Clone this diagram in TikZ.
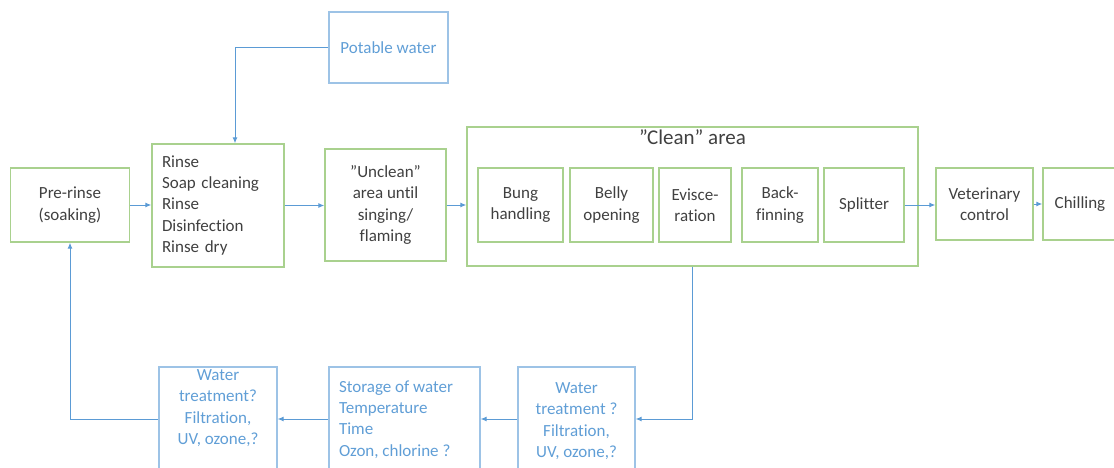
\documentclass[tikz,border=0pt]{standalone}
\usepackage{fontspec}
\setmainfont{Carlito}[Ligatures=NoCommon]
\usepackage{tikz}
\usetikzlibrary{arrows.meta}
\definecolor{boxgreen}{RGB}{169,209,142}
\definecolor{lineblue}{RGB}{91,155,213}
\definecolor{boxblue}{RGB}{157,195,230}
\definecolor{textblue}{RGB}{96,158,214}
\definecolor{textgray}{RGB}{64,64,64}

\begin{document}
\begin{tikzpicture}[x=1pt,y=-1pt,font=\fontsize{17}{21.3}\selectfont,
    flow/.style={draw=lineblue,line width=1pt,-{Latex[length=6pt,width=5pt]}}]
  \path[use as bounding box,clip] (0,0) rectangle (1114,468);
  % process chain (green)
  \begin{scope}[every node/.style={draw=boxgreen,line width=1.4pt,text=textgray,align=center,inner sep=2pt,minimum height=74},
                every label/.style={draw=none,minimum height=0pt,font=\fontsize{21}{25}\selectfont}]
  \node[minimum width=119] (pre) at (70,205) {Pre-rinse\\(soaking)};
  \node[minimum width=132,minimum height=123,align=left,text width=112] (rinse) at (218,205.5)
       {Rinse\\Soap cleaning\\Rinse\\Disinfection\\Rinse dry};
  \node[minimum width=121,minimum height=112] (unclean) at (385.5,205)
       {”Unclean”\\area until\\singing/\\flaming};
  \node[minimum width=451,minimum height=139,label={[below=1pt]north:”Clean” area}] (clean) at (692.5,196.5) {};
  \node[minimum width=85] (bung) at (520.5,205) {Bung\\handling};
  \node[minimum width=83] (belly) at (611.5,205) {Belly\\opening};
  \node[minimum width=72] (evisc) at (695,205) {Evisce-\\ration};
  \node[minimum width=76] (back) at (780,205) {Back-\\finning};
  \node[minimum width=80] (split) at (864,205) {Splitter};
  \node[minimum width=97,minimum height=72] (vet) at (984.5,204) {Veterinary\\control};
  \node[minimum width=74,minimum height=72] (chill) at (1080,204) {Chilling};
  \end{scope}
  % water handling (blue)
  \begin{scope}[every node/.style={draw=boxblue,line width=1.2pt,text=textblue,align=center,inner sep=2pt},
                every label/.style={draw=none}]
  \node[minimum width=119,minimum height=71] (potable) at (388.5,47.5) {Potable water};
  \node[minimum width=117,minimum height=104,label={[below=13.5pt]north:Water\\treatment ?\\Filtration,\\UV, ozone,?}]
       (wt2) at (576.5,419) {};
  \node[minimum width=151,minimum height=104,label={[align=left,anchor=north west,xshift=8pt,yshift=-11.5pt]north west:Storage of water\\Temperature\\Time\\Ozon, chlorine ?}]
       (store) at (404.5,419) {};
  \node[minimum width=118,minimum height=104,label={[below=0.5pt]north:Water\\treatment?\\Filtration,\\UV, ozone,?}]
       (wt1) at (218,419) {};
  \end{scope}
  % connectors
  \draw[flow] (pre.east) -- (pre.east -| rinse.west);
  \draw[flow] (rinse.east) -- (rinse.east -| unclean.west);
  \draw[flow] (unclean.east) -- (unclean.east -| clean.west);
  \draw[flow] (split.east) -- (split.east -| vet.west);
  \draw[flow] (vet.east) -- (chill.west);
  \draw[flow] (potable.west) -| ([xshift=17pt]rinse.north);
  \draw[flow] (clean.south) |- (wt2.east);
  \draw[flow] (wt2.west) -- (store.east);
  \draw[flow] (store.west) -- (wt1.east);
  \draw[flow] (wt1.west) -| (pre.south);
\end{tikzpicture}
\end{document}
